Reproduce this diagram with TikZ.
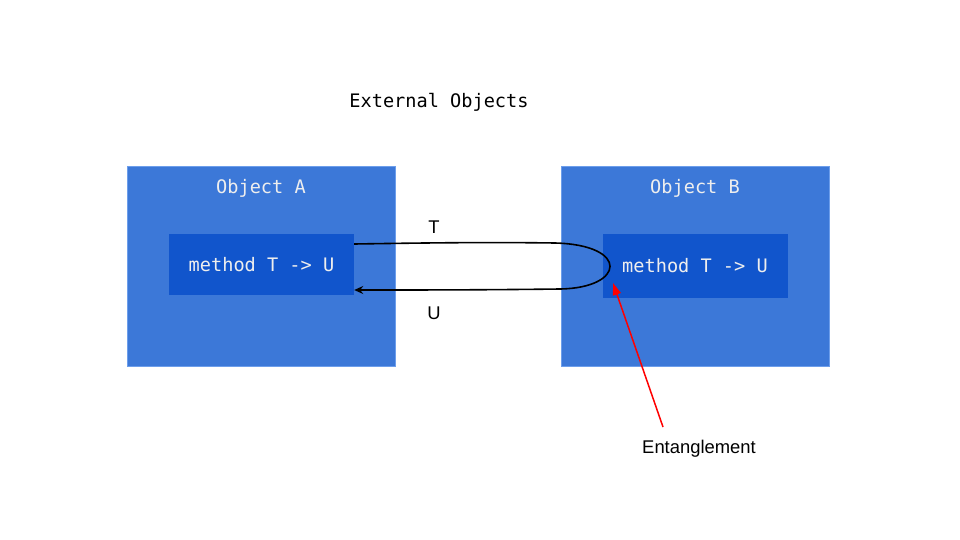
\documentclass[tikz,border=0pt]{standalone}
\usepackage{fontspec}
\setmainfont{Liberation Sans}
\setmonofont{DejaVu Sans Mono}
\usetikzlibrary{arrows.meta,calc}
\definecolor{outerblue}{HTML}{3C78D8}
\definecolor{outeredge}{HTML}{6D9EEB}
\definecolor{innerblue}{HTML}{1155CC}
\definecolor{lighttext}{HTML}{EEEEEE}
\begin{document}
\begin{tikzpicture}[x=1pt,y=-1pt,
  objbox/.style={rectangle,fill=outerblue,draw=outeredge,line width=0.8pt,minimum width=268pt,minimum height=200pt,inner sep=0pt},
  methbox/.style={rectangle,fill=innerblue,draw=none,minimum width=185pt,minimum height=61pt,inner sep=0pt,text=lighttext,font=\ttfamily\fontsize{18.6}{21}\selectfont},
  objtitle/.style={text=lighttext,font=\ttfamily\fontsize{18.6}{21}\selectfont,inner sep=0pt},
  mono/.style={font=\ttfamily\fontsize{18.6}{21}\selectfont,inner sep=0pt},
  sanslabel/.style={font=\fontsize{18.4}{21}\selectfont,inner sep=0pt},
  flow/.style={line width=1.6pt,black,-{Stealth[length=9pt,width=8pt,inset=3pt]}},
  redarrow/.style={line width=1.5pt,red,-{Triangle[length=12pt,width=8pt]}}]
\useasboundingbox (0,0) rectangle (960,540);
\node[mono] (title) at (439,102) {External Objects};
\node[objbox] (objA) at (261,266) {};
\node[objbox] (objB) at (695,266) {};
\node[objtitle] (titleA) at (261,188.5) {Object A};
\node[objtitle] (titleB) at (695,188.5) {Object B};
\node[methbox] (mA) at (261.5,264.5) {method T -> U};
\node[methbox,minimum height=64pt] (mB) at (695,266) {method T -> U};
\node[sanslabel] (lT) at (434,227.5) {T};
\node[sanslabel] (lU) at (434,313.5) {U};
\node[sanslabel] (ent) at (699,448.5) {Entanglement};
\coordinate (start) at ([yshift=20.5pt]mA.east);
\coordinate (stop) at ([yshift=-25.5pt]mA.east);
\coordinate (turnT) at (555,243);
\coordinate (turnB) at (560,289);
\coordinate (entTip) at (613,283);
\coordinate (entTail) at (663,427);
\draw[flow] (start) .. controls (420,243) and (480,242) .. (turnT)
  .. controls (630,245) and (625,288) .. (turnB)
  .. controls (480,290) and (420,290) .. (stop);
\draw[redarrow] (entTail) -- (entTip);
\end{tikzpicture}
\end{document}
